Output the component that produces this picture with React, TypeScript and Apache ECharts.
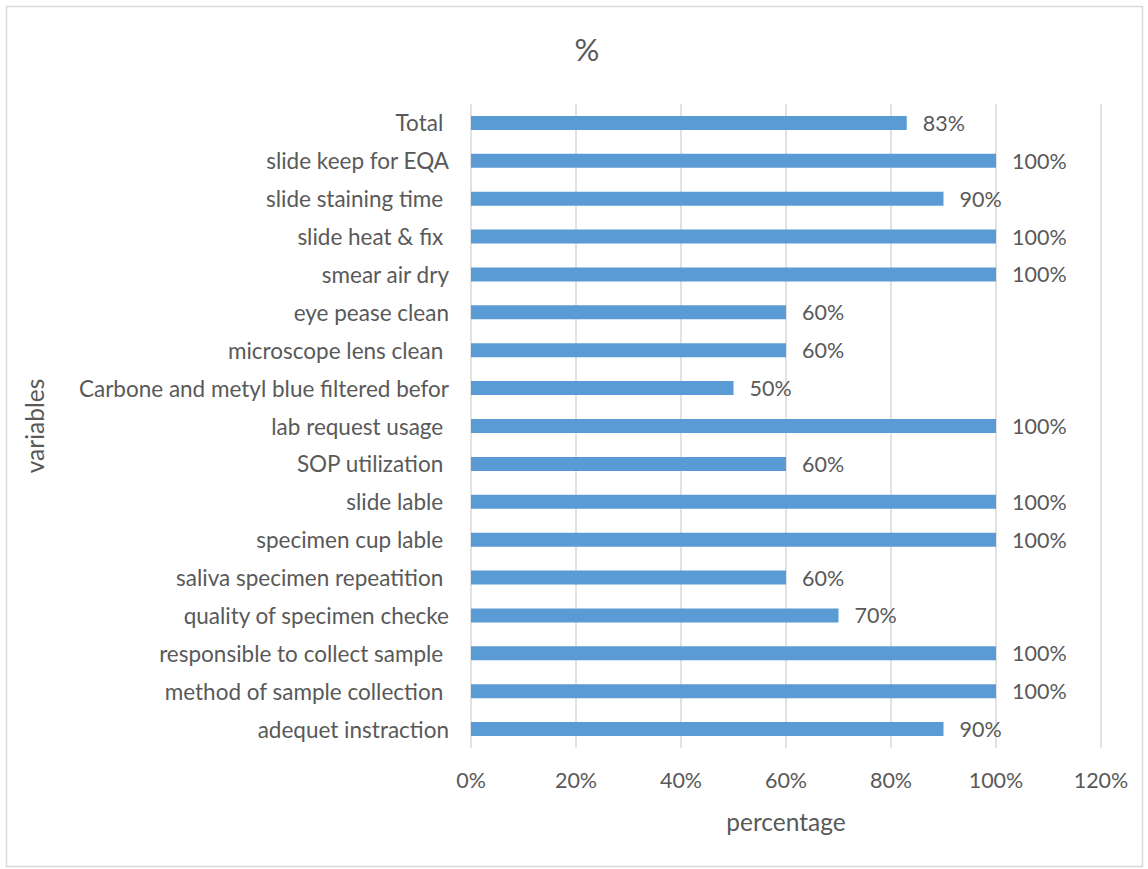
import React, { useEffect, useRef } from "react";
import * as echarts from "echarts";

const categories = [
  "Total ",
  "slide keep for EQA",
  "slide staining time ",
  "slide heat & fix ",
  "smear air dry",
  "eye pease clean",
  "microscope lens clean ",
  "Carbone and metyl blue filtered befor",
  "lab request usage ",
  "SOP utilization ",
  "slide lable ",
  "specimen cup lable ",
  "saliva specimen repeatition ",
  "quality of specimen checke",
  "responsible to collect sample ",
  "method of sample collection ",
  "adequet instraction",
];

const values = [83, 100, 90, 100, 100, 60, 60, 50, 100, 60, 100, 100, 60, 70, 100, 100, 90];

const FONT = "Lato";
const TEXT = "#595959";

export default function App() {
  const ref = useRef<HTMLDivElement>(null);
  useEffect(() => {
    document.body.style.margin = "0";
    const chart = echarts.init(ref.current!, null, { renderer: "svg" });
    chart.setOption({
      animation: false,
      backgroundColor: "#ffffff",
      title: {
        text: "%",
        left: 582,
        top: 28,
        textAlign: "center",
        textStyle: { fontFamily: FONT, fontSize: 31, fontWeight: "normal", color: TEXT },
      },
      graphic: [
        {
          type: "rect",
          shape: { x: 6.5, y: 6.5, width: 1136, height: 860 },
          style: { fill: "none", stroke: "#d9d9d9", lineWidth: 1.5 },
          silent: true,
        },
      ],
      grid: { left: 471, right: 47, top: 104, bottom: 121, containLabel: false },
      xAxis: {
        type: "value",
        min: 0,
        max: 120,
        interval: 20,
        name: "percentage",
        nameLocation: "middle",
        nameGap: 61,
        nameTextStyle: { fontFamily: FONT, fontSize: 24.5, color: TEXT },
        axisLine: { show: false },
        axisTick: { show: false },
        axisLabel: {
          formatter: "{value}%",
          fontFamily: FONT,
          fontSize: 21.5,
          color: TEXT,
          margin: 21,
        },
        splitLine: { show: true, lineStyle: { color: "#d9d9d9", width: 1.5 } },
      },
      yAxis: {
        type: "category",
        data: categories,
        inverse: true,
        name: "variables",
        nameLocation: "middle",
        nameGap: 424,
        nameRotate: 90,
        nameTextStyle: { fontFamily: FONT, fontSize: 24.5, color: TEXT },
        axisLine: { show: false },
        axisTick: { show: false },
        axisLabel: { fontFamily: FONT, fontSize: 22.5, color: TEXT, margin: 22 },
      },
      series: [
        {
          type: "bar",
          data: values,
          barWidth: 14,
          itemStyle: { color: "#5b9bd5" },
          label: {
            show: true,
            position: "right",
            distance: 16,
            formatter: "{c}%",
            fontFamily: FONT,
            fontSize: 21.5,
            color: TEXT,
          },
        },
      ],
    });
    return () => chart.dispose();
  }, []);
  return (
    <div
      ref={ref}
      style={{ position: "absolute", left: 0, top: 0, width: 1148, height: 869 }}
    />
  );
}
